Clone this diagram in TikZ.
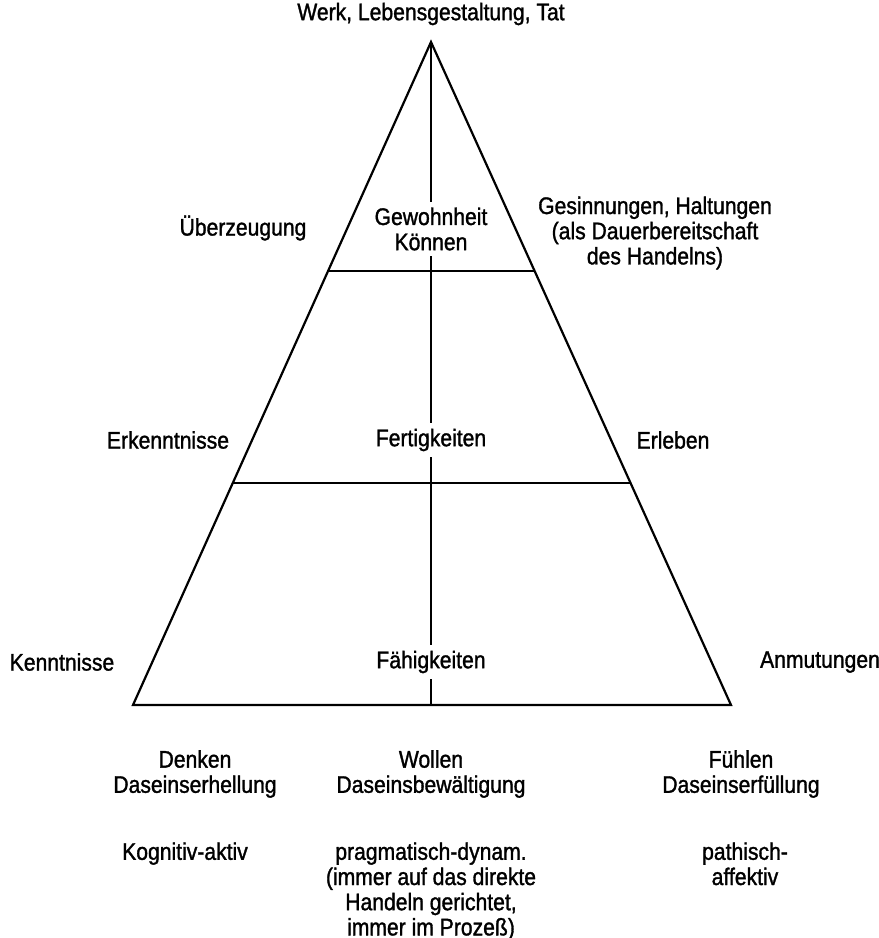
\documentclass[tikz,border=0pt]{standalone}
\usepackage{fontspec}
\setmainfont{Liberation Sans}[FakeStretch=0.88,FakeBold=1.3]
\usepackage{tikz}
\usetikzlibrary{calc}
\begin{document}
\begin{tikzpicture}[x=0.5pt,y=-0.5pt,
  lbl/.style={align=center,font=\fontsize{12}{12.6}\selectfont,inner sep=1pt},
  mid/.style={lbl,fill=white,inner sep=3pt},
  edge/.style={line width=1.1pt,line join=miter}]
\useasboundingbox (0,0) rectangle (879,938);
% pyramid
\coordinate (apex) at (431,42);
\coordinate (bl) at (133,705);
\coordinate (br) at (731,705);
\coordinate (bm) at (431,705);
\draw[edge] (apex) -- (bl) -- (br) -- cycle;
\draw[edge] (apex) -- (bm);
\draw[edge] ($(apex)!0.3454!(bl)$) -- ($(apex)!0.3454!(br)$);
\draw[edge] ($(apex)!0.665!(bl)$) -- ($(apex)!0.665!(br)$);
% labels
\node[lbl] (tat) at (431,14) {Werk, Lebensgestaltung, Tat};
\node[lbl] (ueberz) at (243,228) {Überzeugung};
\node[mid] (gewohn) at (431,229) {Gewohnheit\\Können};
\node[lbl] (gesinn) at (655,233) {Gesinnungen, Haltungen\\(als Dauerbereitschaft\\des Handelns)};
\node[lbl] (erkennt) at (168,440) {Erkenntnisse};
\node[mid] (fertig) at (431,440) {Fertigkeiten};
\node[lbl] (erleben) at (673,440) {Erleben};
\node[lbl] (kennt) at (62,662) {Kenntnisse};
\node[mid] (faehig) at (431,662) {Fähigkeiten};
\node[lbl] (anmut) at (820,662) {Anmutungen};
\node[lbl] (denken) at (195,774) {Denken\\Daseinserhellung};
\node[lbl] (wollen) at (431,774) {Wollen\\Daseinsbewältigung};
\node[lbl] (fuehlen) at (741,774) {Fühlen\\Daseinserfüllung};
\node[lbl,anchor=north] (kognitiv) at (185,840) {Kognitiv-aktiv};
\node[lbl,anchor=north] (pragmat) at (431,840) {pragmatisch-dynam.\\(immer auf das direkte\\Handeln gerichtet,\\immer im Prozeß)};
\node[lbl,anchor=north] (pathisch) at (745,840) {pathisch-\\affektiv};
\end{tikzpicture}
\end{document}
